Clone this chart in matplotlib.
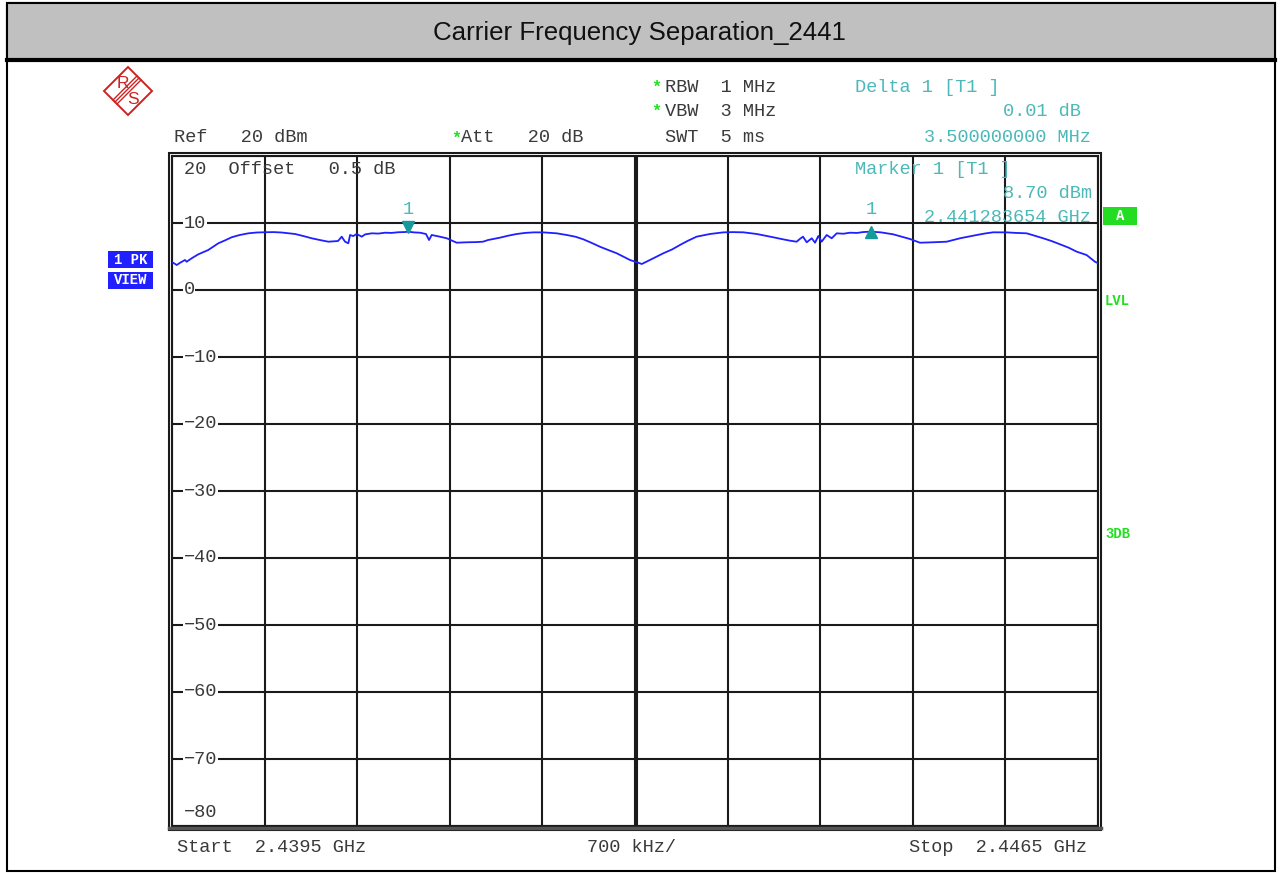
import matplotlib
matplotlib.use("Agg")
import matplotlib.pyplot as plt
from matplotlib.patches import Rectangle, Polygon
from matplotlib.lines import Line2D
from matplotlib.transforms import offset_copy

# ---- measurement data (frequency in MHz, level in dBm) ----
freq_mhz = [
    2439.500, 2439.510, 2439.536, 2439.560, 2439.598, 2439.611, 2439.650, 2439.699,
    2439.774, 2439.850, 2439.900, 2439.951, 2440.010, 2440.077, 2440.140, 2440.203,
    2440.270, 2440.329, 2440.430, 2440.500, 2440.556, 2440.620, 2440.682, 2440.755,
    2440.783, 2440.808, 2440.833, 2440.846, 2440.870, 2440.896, 2440.934, 2440.960,
    2441.010, 2441.060, 2441.110, 2441.160, 2441.211, 2441.261, 2441.2837, 2441.330,
    2441.375, 2441.420, 2441.443, 2441.463, 2441.520, 2441.577, 2441.652, 2441.728,
    2441.800, 2441.851, 2441.889, 2441.979, 2442.040, 2442.106, 2442.170, 2442.231,
    2442.307, 2442.408, 2442.484, 2442.550, 2442.609, 2442.670, 2442.735, 2442.800,
    2442.862, 2442.962, 2443.025, 2443.051, 2443.113, 2443.214, 2443.280, 2443.340,
    2443.400, 2443.466, 2443.567, 2443.667, 2443.740, 2443.819, 2443.920, 2444.045,
    2444.110, 2444.172, 2444.222, 2444.245, 2444.270, 2444.298, 2444.336, 2444.361,
    2444.386, 2444.411, 2444.449, 2444.487, 2444.525, 2444.575, 2444.625, 2444.680,
    2444.726, 2444.7837, 2444.860, 2444.952, 2445.079, 2445.154, 2445.250, 2445.356,
    2445.457, 2445.583, 2445.650, 2445.708, 2445.809, 2445.880, 2445.961, 2446.086,
    2446.150, 2446.213, 2446.280, 2446.339, 2446.414, 2446.477, 2446.500,
]
level_dbm = [
    4.10, 4.05, 3.73, 4.05, 4.48, 4.22, 4.75, 5.33,
    5.97, 6.97, 7.40, 7.87, 8.20, 8.46, 8.58, 8.62,
    8.64, 8.58, 8.36, 8.02, 7.72, 7.45, 7.21, 7.31,
    7.96, 7.21, 6.97, 8.21, 8.05, 8.36, 7.96, 8.30,
    8.46, 8.42, 8.55, 8.52, 8.62, 8.65, 8.70, 8.60,
    8.55, 8.36, 7.46, 8.21, 7.98, 7.72, 7.06, 7.12,
    7.15, 7.21, 7.46, 7.81, 8.10, 8.36, 8.52, 8.60,
    8.60, 8.46, 8.21, 7.95, 7.57, 7.05, 6.46, 5.95,
    5.48, 4.48, 4.07, 3.88, 4.48, 5.48, 6.05, 6.72,
    7.35, 7.96, 8.36, 8.60, 8.64, 8.61, 8.36, 7.87,
    7.60, 7.36, 7.21, 7.60, 7.96, 7.12, 7.72, 7.06,
    8.06, 7.21, 8.21, 7.72, 8.46, 8.40, 8.55, 8.52,
    8.65, 8.71, 8.60, 8.31, 7.61, 7.06, 7.12, 7.21,
    7.72, 8.21, 8.45, 8.61, 8.60, 8.52, 8.46, 7.72,
    7.30, 6.82, 6.30, 5.72, 5.22, 4.22, 4.00,
]

start_mhz = 2439.5
stop_mhz = 2446.5
span_div_mhz = 0.7
ref_level = 20
db_per_div = 10
y_tick_values = [10, 0, -10, -20, -30, -40, -50, -60, -70]

marker1_freq = 2441.283654
marker1_level = 8.70
delta1_freq = marker1_freq + 3.5
delta1_level = marker1_level + 0.01

W, H = 1281, 873
fig = plt.figure(figsize=(W / 100, H / 100), dpi=100)
fig.patch.set_facecolor("white")

MONO = ["Liberation Mono", "DejaVu Sans Mono"]
FS = 13.4
GRAY_TXT = "#3a3a3a"
TEAL = "#4db8b8"
TEAL_MK = "#169a9a"
GREEN = "#20e020"
BLUE = "#1f1fff"


def fx(x):
    return x / W


def fy(y):
    return 1 - y / H


def ftext(x, y, s, **kw):
    kw.setdefault("family", MONO)
    kw.setdefault("fontsize", FS)
    kw.setdefault("color", GRAY_TXT)
    kw.setdefault("va", "center")
    fig.text(fx(x), fy(y), s, **kw)


def fline(x0, y0, x1, y1, **kw):
    fig.add_artist(Line2D([fx(x0), fx(x1)], [fy(y0), fy(y1)],
                          transform=fig.transFigure, **kw))


# ---- page frame and header band ----
fig.add_artist(Rectangle((fx(7), fy(871)), fx(1275) - fx(7), fy(3) - fy(871),
                         transform=fig.transFigure, fill=False,
                         edgecolor="black", lw=1.5))
fig.add_artist(Rectangle((fx(7), fy(60)), fx(1275) - fx(7), fy(3) - fy(60),
                         transform=fig.transFigure, facecolor="#c0c0c0",
                         edgecolor="black", lw=1.5))
fline(7, 60, 1275, 60, color="black", lw=3)
fig.text(fx(639), fy(33), "Carrier Frequency Separation_2441",
         family=["Liberation Sans", "DejaVu Sans"], fontsize=18.6,
         color="#111111", ha="center", va="center")

# ---- R&S logo ----
cx, cy, r = 128, 91, 24
fig.add_artist(Polygon([(fx(cx), fy(cy - r)), (fx(cx + r), fy(cy)),
                        (fx(cx), fy(cy + r)), (fx(cx - r), fy(cy))],
                       closed=True, transform=fig.transFigure, fill=False,
                       edgecolor="#cc2222", lw=1.4))
for d in (-2.0, 0, 2.0):
    fline(cx - 13 + d, cy + 11 + d, cx + 11 + d, cy - 13 + d, color="#cc2222", lw=1.0)
fig.text(fx(cx - 5), fy(cy - 7), "R", family=["Liberation Sans"], fontsize=12.5,
         color="#cc2222", ha="center", va="center")
fig.text(fx(cx + 5), fy(cy + 9), "S", family=["Liberation Sans"], fontsize=12.5,
         color="#cc2222", ha="center", va="center")

# ---- instrument settings ----
ftext(174, 137, "Ref   20 dBm")
ftext(451, 138, "*", color=GREEN, fontsize=12, weight="bold")
ftext(461, 137, "Att   20 dB")
ftext(651, 87, "*", color=GREEN, fontsize=12, weight="bold")
ftext(665, 88, "RBW  1 MHz")
ftext(651, 111, "*", color=GREEN, fontsize=12, weight="bold")
ftext(665, 112, "VBW  3 MHz")
ftext(665, 137, "SWT  5 ms")

# ---- marker readout ----
ftext(855, 88, "Delta 1 [T1 ]", color=TEAL)
ftext(1081, 112, f"{delta1_level - marker1_level:.2f} dB", color=TEAL, ha="right")
ftext(1091, 137, f"{delta1_freq - marker1_freq:.9f} MHz", color=TEAL, ha="right")

# ---- trace axes ----
ax = fig.add_axes([fx(172), fy(826), fx(1098) - fx(172), fy(156) - fy(826)])
ax.set_xlim(start_mhz, stop_mhz)
ax.set_ylim(ref_level - 10 * db_per_div, ref_level)
xt = [start_mhz + i * span_div_mhz for i in range(11)]
ax.set_xticks(xt)
ax.set_yticks([ref_level - i * db_per_div for i in range(11)])
ax.grid(True, color="#1a1a1a", lw=1.5)
ax.tick_params(length=0, labelbottom=False, labelleft=False)
for s in ax.spines.values():
    s.set_color("#1a1a1a")
    s.set_linewidth(1.5)
ax.set_facecolor("white")

# doubled centre line
ax.plot([xt[5], xt[5]], [0, 1], color="#1a1a1a", lw=1.5,
        transform=offset_copy(ax.get_xaxis_transform(), fig=fig, x=2.2, y=0, units="dots"))

ax.plot(freq_mhz, level_dbm, color=BLUE, lw=1.3, zorder=5)

# level labels on the grid
for v in y_tick_values:
    ax.text(0.0125, v, f"{v}".replace("-", "\u2212"), transform=ax.get_yaxis_transform(),
            family=MONO, fontsize=FS, color=GRAY_TXT, va="center", ha="left",
            bbox=dict(facecolor="white", edgecolor="none", pad=0.5), zorder=4)
ax.text(0.0125, -78, "\u221280", transform=ax.get_yaxis_transform(),
        family=MONO, fontsize=FS, color=GRAY_TXT, va="center", ha="left", zorder=4)
ax.text(0.0125, 18, f"{ref_level}  Offset   0.5 dB", transform=ax.get_yaxis_transform(),
        family=MONO, fontsize=FS, color=GRAY_TXT, va="center", ha="left", zorder=4)

# markers
up = offset_copy(ax.transData, fig=fig, x=0, y=5, units="dots")
ax.plot([marker1_freq], [marker1_level], marker="v", ms=8, color=TEAL_MK,
        ls="none", transform=up, zorder=6, clip_on=False)
ax.plot([delta1_freq], [delta1_level], marker="^", ms=8, color=TEAL_MK,
        ls="none", zorder=6, clip_on=False)
lab = offset_copy(ax.transData, fig=fig, x=0, y=22, units="dots")
ax.text(marker1_freq, marker1_level, "1", transform=lab, family=MONO, fontsize=FS,
        color=TEAL, ha="center", va="center")
ax.text(delta1_freq, delta1_level, "1", transform=lab, family=MONO, fontsize=FS,
        color=TEAL, ha="center", va="center")

ftext(855, 170, "Marker 1 [T1 ]", color=TEAL, zorder=6)
ftext(1092, 194, f"{marker1_level:.2f} dBm", color=TEAL, ha="right", zorder=6)
ftext(1091, 217, f"{marker1_freq / 1000:.9f} GHz", color=TEAL, ha="right", zorder=6)

# outer double frame around the grid
fig.add_artist(Rectangle((fx(169), fy(830)), fx(1101) - fx(169), fy(153) - fy(830),
                         transform=fig.transFigure, fill=False,
                         edgecolor="#1a1a1a", lw=1.5))
fline(169, 828, 1101, 828, color="#555555", lw=2.5)

# ---- side annotations ----
def badge(x0, y0, x1, y1, txt, face):
    fig.add_artist(Rectangle((fx(x0), fy(y1)), fx(x1) - fx(x0), fy(y0) - fy(y1),
                             transform=fig.transFigure, facecolor=face, edgecolor="none"))
    fig.text(fx((x0 + x1) / 2), fy((y0 + y1) / 2), txt, family=MONO, fontsize=10,
             weight="bold", color="white", ha="center", va="center")


badge(108, 251, 153, 268, "1 PK", BLUE)
badge(108, 272, 153, 289, "VIEW", BLUE)
badge(1103, 207, 1137, 225, "A", "#22dd22")
ftext(1105, 301, "LVL", color=GREEN, fontsize=10, weight="bold")
ftext(1105, 534, "3DB", color=GREEN, fontsize=10, weight="bold")

# ---- span ----
ftext(177, 847, f"Start  {start_mhz / 1000:.4f} GHz")
ftext(587, 847, f"{span_div_mhz * 1000:.0f} kHz/")
ftext(1087, 847, f"Stop  {stop_mhz / 1000:.4f} GHz", ha="right")

fig.savefig("out.png", dpi=100)
